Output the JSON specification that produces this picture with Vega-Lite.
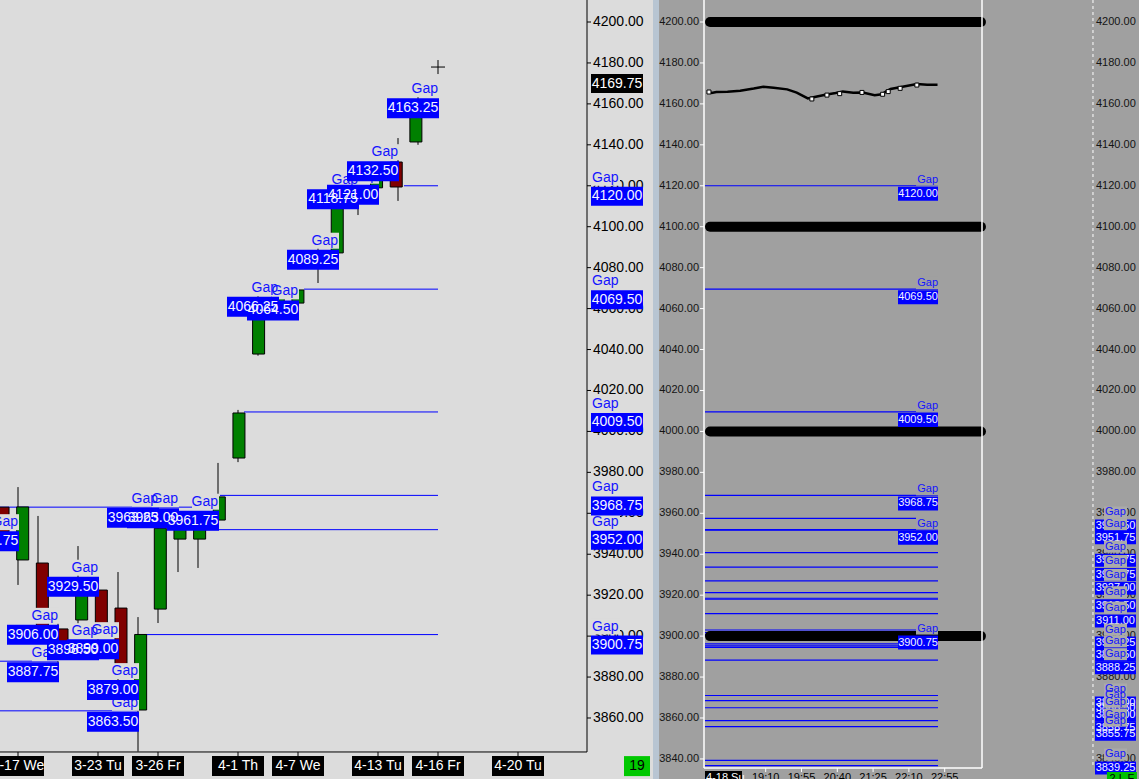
{
  "$schema": "https://vega.github.io/schema/vega-lite/v6.json",
  "width": 1139,
  "height": 779,
  "autosize": {"type": "none"},
  "padding": 0,
  "background": "#dcdcdc",
  "config": {"view": {"stroke": null}, "font": "Liberation Sans"},
  "datasets": {
    "candles": [
      {"s": -1, "o": 3963.0, "h": 3966.0, "l": 3948.0, "c": 3951.0},
      {"s": 0, "o": 3937.2, "h": 3972.8, "l": 3925.0, "c": 3963.1},
      {"s": 1, "o": 3935.7, "h": 3958.7, "l": 3902.0, "c": 3905.0},
      {"s": 2, "o": 3903.5, "h": 3912.0, "l": 3881.0, "c": 3890.0},
      {"s": 3, "o": 3907.9, "h": 3944.0, "l": 3905.0, "c": 3926.0},
      {"s": 4, "o": 3922.5, "h": 3925.0, "l": 3898.0, "c": 3904.0},
      {"s": 5, "o": 3913.7, "h": 3931.3, "l": 3876.0, "c": 3880.0},
      {"s": 6, "o": 3863.9, "h": 3909.3, "l": 3843.6, "c": 3900.8},
      {"s": 7, "o": 3913.2, "h": 3960.0, "l": 3906.4, "c": 3952.7},
      {"s": 8, "o": 3947.4, "h": 3962.0, "l": 3931.3, "c": 3953.3},
      {"s": 9, "o": 3947.4, "h": 3960.0, "l": 3933.3, "c": 3953.3},
      {"s": 10, "o": 3956.7, "h": 3984.6, "l": 3955.5, "c": 3968.0},
      {"s": 11, "o": 3987.0, "h": 4010.5, "l": 3985.0, "c": 4009.0},
      {"s": 12, "o": 4037.8, "h": 4066.0, "l": 4037.0, "c": 4064.0},
      {"s": 13, "o": 4062.0, "h": 4068.0, "l": 4060.0, "c": 4066.0},
      {"s": 14, "o": 4062.7, "h": 4069.5, "l": 4060.5, "c": 4069.1},
      {"s": 15, "o": 4081.0, "h": 4089.6, "l": 4072.5, "c": 4087.0},
      {"s": 16, "o": 4087.2, "h": 4117.0, "l": 4086.0, "c": 4115.0},
      {"s": 17, "o": 4114.0, "h": 4122.0, "l": 4105.7, "c": 4120.0},
      {"s": 18, "o": 4119.0, "h": 4131.0, "l": 4117.0, "c": 4127.0},
      {"s": 19, "o": 4131.6, "h": 4143.3, "l": 4112.6, "c": 4119.4},
      {"s": 20, "o": 4141.4, "h": 4163.5, "l": 4140.0, "c": 4160.0}
    ],
    "lgaps": [
      {"s": 0, "p": 3951.75},
      {"s": 2, "p": 3906.0},
      {"s": 2, "p": 3887.75},
      {"s": 4, "p": 3929.5},
      {"s": 4, "p": 3898.5},
      {"s": 5, "p": 3899.0},
      {"s": 6, "p": 3879.0},
      {"s": 6, "p": 3863.5},
      {"s": 7, "p": 3963.25},
      {"s": 8, "p": 3963.0},
      {"s": 10, "p": 3961.75},
      {"s": 13, "p": 4066.25},
      {"s": 14, "p": 4064.5},
      {"s": 16, "p": 4089.25},
      {"s": 17, "p": 4118.75},
      {"s": 18, "p": 4121.0},
      {"s": 19, "p": 4132.5},
      {"s": 21, "p": 4163.25}
    ],
    "llines": [
      {"p": 3963.0, "s": -0.9, "e": 10},
      {"p": 3968.75, "s": 10.1, "e": 21},
      {"p": 3952.0, "s": 9.3, "e": 21},
      {"p": 4009.5, "s": 11.3, "e": 21},
      {"p": 4069.5, "s": 14.3, "e": 21},
      {"p": 4120.0, "s": 19.3, "e": 21},
      {"p": 3900.75, "s": 6.3, "e": 21},
      {"p": 3863.5, "s": -0.9, "e": 6},
      {"p": 3887.75, "s": -0.9, "e": 2}
    ],
    "open": [
      {"p": 4120.0}, {"p": 4069.5}, {"p": 4009.5}, {"p": 3968.75}, {"p": 3952.0}, {"p": 3900.75}
    ],
    "last": [{"p": 4169.75}],
    "dates": [
      {"s": 0, "d": "3-17 We"}, {"s": 4, "d": "3-23 Tu"}, {"s": 7, "d": "3-26 Fr"},
      {"s": 11, "d": "4-1 Th"}, {"s": 14, "d": "4-7 We"}, {"s": 18, "d": "4-13 Tu"},
      {"s": 21, "d": "4-16 Fr"}, {"s": 25, "d": "4-20 Tu"}
    ],
    "yticks": [
      {"p": 3840}, {"p": 3860}, {"p": 3880}, {"p": 3900}, {"p": 3920}, {"p": 3940}, {"p": 3960},
      {"p": 3980}, {"p": 4000}, {"p": 4020}, {"p": 4040}, {"p": 4060}, {"p": 4080}, {"p": 4100},
      {"p": 4120}, {"p": 4140}, {"p": 4160}, {"p": 4180}, {"p": 4200}
    ],
    "rlines": [
      {"p": 4120.0}, {"p": 4069.5}, {"p": 4009.5}, {"p": 3968.75}, {"p": 3957.5}, {"p": 3952.0},
      {"p": 3951.75}, {"p": 3940.75}, {"p": 3933.75}, {"p": 3927.0}, {"p": 3921.25}, {"p": 3918.5},
      {"p": 3918.0}, {"p": 3911.0}, {"p": 3903.0}, {"p": 3901.75}, {"p": 3900.75}, {"p": 3900.25},
      {"p": 3896.25}, {"p": 3895.25}, {"p": 3894.5}, {"p": 3888.25}, {"p": 3871.0}, {"p": 3868.5},
      {"p": 3865.0}, {"p": 3858.75}, {"p": 3855.75}, {"p": 3839.25}, {"p": 3836.75}
    ],
    "raxis": [
      {"p": 3957.5}, {"p": 3951.75}, {"p": 3940.75}, {"p": 3933.75}, {"p": 3927.0}, {"p": 3918.5},
      {"p": 3911.0}, {"p": 3900.25}, {"p": 3894.5}, {"p": 3888.25}, {"p": 3871.0}, {"p": 3868.5},
      {"p": 3865.0}, {"p": 3858.75}, {"p": 3855.75}, {"p": 3839.25}
    ],
    "rbold": [{"p": 4200}, {"p": 4100}, {"p": 4000}, {"p": 3900}],
    "rprice": [
      {"t": -3, "p": 4166.0}, {"t": 2, "p": 4165.3}, {"t": 8, "p": 4165.8}, {"t": 22, "p": 4165.9},
      {"t": 38, "p": 4166.4}, {"t": 55, "p": 4167.5}, {"t": 67, "p": 4168.4}, {"t": 80, "p": 4167.9},
      {"t": 97, "p": 4167.1}, {"t": 109, "p": 4165.5}, {"t": 115, "p": 4164.3}, {"t": 123, "p": 4162.7},
      {"t": 130, "p": 4163.2}, {"t": 145, "p": 4164.5}, {"t": 158, "p": 4165.3}, {"t": 167, "p": 4166.1},
      {"t": 180, "p": 4165.5}, {"t": 192, "p": 4165.6}, {"t": 207, "p": 4164.2}, {"t": 216, "p": 4164.7},
      {"t": 221, "p": 4166.0}, {"t": 227, "p": 4167.3}, {"t": 242, "p": 4168.4}, {"t": 260, "p": 4169.7},
      {"t": 273, "p": 4169.4}, {"t": 286, "p": 4169.4}
    ],
    "rwhite": [
      {"t": -1.3, "p": 4165.8}, {"t": 128, "p": 4162.4}, {"t": 147, "p": 4164.3}, {"t": 163, "p": 4165.0},
      {"t": 191, "p": 4165.6}, {"t": 217, "p": 4164.7}, {"t": 224, "p": 4166.0}, {"t": 239, "p": 4167.6},
      {"t": 260, "p": 4169.2}
    ],
    "rtimes": [
      {"t": 70, "d": "19:10"}, {"t": 115, "d": "19:55"}, {"t": 160, "d": "20:40"},
      {"t": 205, "d": "21:25"}, {"t": 250, "d": "22:10"}, {"t": 295, "d": "22:55"}
    ],
    "one": [{"k": 1}]
  },
  "resolve": {"scale": {"x": "independent"}, "axis": {"x": "independent"}},
  "layer": [
    {
      "data": {"name": "one"},
      "mark": {"type": "rect", "color": "#a0a0a0"},
      "encoding": {
        "x": {"datum": 32.05, "type": "quantitative", "axis": null, "scale": {"domain": [-0.9, 28.45], "range": [0, 587], "nice": false, "zero": false}},
        "x2": {"datum": 57},
        "y": {"datum": 3830.2, "type": "quantitative", "axis": null, "scale": {"domain": [3830.2, 4210.75], "nice": false, "zero": false}},
        "y2": {"datum": 4210.75}
      }
    },
    {
      "data": {"name": "one"},
      "mark": {"type": "rect", "color": "#b8c5d2"},
      "encoding": {
        "x": {"datum": 31.75, "type": "quantitative", "axis": null, "scale": {"domain": [-0.9, 28.45], "range": [0, 587], "nice": false, "zero": false}},
        "x2": {"datum": 32.05},
        "y": {"datum": 3830.2, "type": "quantitative", "axis": null, "scale": {"domain": [3830.2, 4210.75], "nice": false, "zero": false}},
        "y2": {"datum": 4210.75}
      }
    },
    {
      "data": {"name": "llines"},
      "mark": {"type": "rule", "color": "#0000ff", "strokeWidth": 1},
      "encoding": {
        "x": {"field": "s", "type": "quantitative", "axis": null, "scale": {"domain": [-0.9, 28.45], "range": [0, 587], "nice": false, "zero": false}},
        "x2": {"field": "e"},
        "y": {"field": "p", "type": "quantitative", "axis": null, "scale": {"domain": [3830.2, 4210.75], "nice": false, "zero": false}}
      }
    },
    {
      "data": {"name": "candles"},
      "mark": {"type": "rule", "color": "#000000", "strokeWidth": 1},
      "encoding": {
        "x": {"field": "s", "type": "quantitative", "axis": null, "scale": {"domain": [-0.9, 28.45], "range": [0, 587], "nice": false, "zero": false}},
        "y": {"field": "l", "type": "quantitative", "axis": null, "scale": {"domain": [3830.2, 4210.75], "nice": false, "zero": false}},
        "y2": {"field": "h"}
      }
    },
    {
      "data": {"name": "candles"},
      "mark": {"type": "bar", "orient": "vertical", "width": 12, "stroke": "#000000", "strokeWidth": 1},
      "encoding": {
        "x": {"field": "s", "type": "quantitative", "axis": null, "scale": {"domain": [-0.9, 28.45], "range": [0, 587], "nice": false, "zero": false}},
        "y": {"field": "o", "type": "quantitative", "axis": null, "scale": {"domain": [3830.2, 4210.75], "nice": false, "zero": false}},
        "y2": {"field": "c"},
        "fill": {"condition": {"test": "datum.c >= datum.o", "value": "#008000"}, "value": "#800000"}
      }
    },
    {
      "data": {"name": "yticks"},
      "transform": [{"filter": "datum.p >= 3860"}],
      "mark": {"type": "rule", "color": "#000000", "strokeWidth": 1},
      "encoding": {
        "x": {"datum": 28.45, "type": "quantitative", "axis": null, "scale": {"domain": [-0.9, 28.45], "range": [0, 587], "nice": false, "zero": false}},
        "x2": {"datum": 28.65},
        "y": {"field": "p", "type": "quantitative", "axis": null, "scale": {"domain": [3830.2, 4210.75], "nice": false, "zero": false}}
      }
    },
    {
      "data": {"name": "yticks"},
      "transform": [{"filter": "datum.p >= 3860"}],
      "mark": {"type": "text", "align": "left", "baseline": "middle", "dx": 6, "fontSize": 14, "color": "#000000"},
      "encoding": {
        "x": {"datum": 28.45, "type": "quantitative", "axis": null, "scale": {"domain": [-0.9, 28.45], "range": [0, 587], "nice": false, "zero": false}},
        "y": {"field": "p", "type": "quantitative", "axis": null, "scale": {"domain": [3830.2, 4210.75], "nice": false, "zero": false}},
        "text": {"field": "p", "type": "quantitative", "format": ".2f"}
      }
    },
    {
      "data": {"name": "one"},
      "mark": {"type": "rule", "color": "#000000", "strokeWidth": 1},
      "encoding": {
        "x": {"datum": 28.45, "type": "quantitative", "axis": null, "scale": {"domain": [-0.9, 28.45], "range": [0, 587], "nice": false, "zero": false}},
        "y": {"datum": 3843.4, "type": "quantitative", "axis": null, "scale": {"domain": [3830.2, 4210.75], "nice": false, "zero": false}},
        "y2": {"datum": 4210.75}
      }
    },
    {
      "data": {"name": "one"},
      "mark": {"type": "rule", "color": "#000000", "strokeWidth": 1},
      "encoding": {
        "x": {"datum": -0.9, "type": "quantitative", "axis": null, "scale": {"domain": [-0.9, 28.45], "range": [0, 587], "nice": false, "zero": false}},
        "x2": {"datum": 28.45},
        "y": {"datum": 3843.4, "type": "quantitative", "axis": null, "scale": {"domain": [3830.2, 4210.75], "nice": false, "zero": false}}
      }
    },
    {
      "data": {"name": "lgaps"},
      "mark": {"type": "point", "shape": "M-26,-16H1V0H-26Z", "size": 4, "filled": true, "color": "#dcdcdc", "opacity": 1, "strokeWidth": 0},
      "encoding": {
        "x": {"field": "s", "type": "quantitative", "axis": null, "scale": {"domain": [-0.9, 28.45], "range": [0, 587], "nice": false, "zero": false}},
        "y": {"field": "p", "type": "quantitative", "axis": null, "scale": {"domain": [3830.2, 4210.75], "nice": false, "zero": false}}
      }
    },
    {
      "data": {"name": "lgaps"},
      "mark": {"type": "text", "text": "Gap", "align": "right", "baseline": "bottom", "dy": -1, "fontSize": 14, "color": "#1414ff"},
      "encoding": {
        "x": {"field": "s", "type": "quantitative", "axis": null, "scale": {"domain": [-0.9, 28.45], "range": [0, 587], "nice": false, "zero": false}},
        "y": {"field": "p", "type": "quantitative", "axis": null, "scale": {"domain": [3830.2, 4210.75], "nice": false, "zero": false}}
      }
    },
    {
      "data": {"name": "lgaps"},
      "mark": {"type": "point", "shape": "M-51,1H1V21H-51Z", "size": 4, "filled": true, "color": "#0000ff", "opacity": 1, "strokeWidth": 0},
      "encoding": {
        "x": {"field": "s", "type": "quantitative", "axis": null, "scale": {"domain": [-0.9, 28.45], "range": [0, 587], "nice": false, "zero": false}},
        "y": {"field": "p", "type": "quantitative", "axis": null, "scale": {"domain": [3830.2, 4210.75], "nice": false, "zero": false}}
      }
    },
    {
      "data": {"name": "lgaps"},
      "mark": {"type": "text", "align": "center", "baseline": "middle", "dx": -25, "dy": 11, "fontSize": 14, "color": "#f4f4ff"},
      "encoding": {
        "x": {"field": "s", "type": "quantitative", "axis": null, "scale": {"domain": [-0.9, 28.45], "range": [0, 587], "nice": false, "zero": false}},
        "y": {"field": "p", "type": "quantitative", "axis": null, "scale": {"domain": [3830.2, 4210.75], "nice": false, "zero": false}},
        "text": {"field": "p", "type": "quantitative", "format": ".2f"}
      }
    },
    {
      "data": {"name": "open"},
      "mark": {"type": "point", "shape": "M4,-16H33V0H4Z", "size": 4, "filled": true, "color": "#dcdcdc", "opacity": 1, "strokeWidth": 0},
      "encoding": {
        "x": {"datum": 28.45, "type": "quantitative", "axis": null, "scale": {"domain": [-0.9, 28.45], "range": [0, 587], "nice": false, "zero": false}},
        "y": {"field": "p", "type": "quantitative", "axis": null, "scale": {"domain": [3830.2, 4210.75], "nice": false, "zero": false}}
      }
    },
    {
      "data": {"name": "open"},
      "mark": {"type": "text", "text": "Gap", "align": "left", "baseline": "bottom", "dx": 5, "dy": -1, "fontSize": 14, "color": "#1414ff"},
      "encoding": {
        "x": {"datum": 28.45, "type": "quantitative", "axis": null, "scale": {"domain": [-0.9, 28.45], "range": [0, 587], "nice": false, "zero": false}},
        "y": {"field": "p", "type": "quantitative", "axis": null, "scale": {"domain": [3830.2, 4210.75], "nice": false, "zero": false}}
      }
    },
    {
      "data": {"name": "open"},
      "mark": {"type": "point", "shape": "M4,1H56V20H4Z", "size": 4, "filled": true, "color": "#0000ff", "opacity": 1, "strokeWidth": 0},
      "encoding": {
        "x": {"datum": 28.45, "type": "quantitative", "axis": null, "scale": {"domain": [-0.9, 28.45], "range": [0, 587], "nice": false, "zero": false}},
        "y": {"field": "p", "type": "quantitative", "axis": null, "scale": {"domain": [3830.2, 4210.75], "nice": false, "zero": false}}
      }
    },
    {
      "data": {"name": "open"},
      "mark": {"type": "text", "align": "center", "baseline": "middle", "dx": 30, "dy": 10.5, "fontSize": 14, "color": "#f4f4ff"},
      "encoding": {
        "x": {"datum": 28.45, "type": "quantitative", "axis": null, "scale": {"domain": [-0.9, 28.45], "range": [0, 587], "nice": false, "zero": false}},
        "y": {"field": "p", "type": "quantitative", "axis": null, "scale": {"domain": [3830.2, 4210.75], "nice": false, "zero": false}},
        "text": {"field": "p", "type": "quantitative", "format": ".2f"}
      }
    },
    {
      "data": {"name": "last"},
      "mark": {"type": "point", "shape": "M4,-10H56V9H4Z", "size": 4, "filled": true, "color": "#000000", "opacity": 1, "strokeWidth": 0},
      "encoding": {
        "x": {"datum": 28.45, "type": "quantitative", "axis": null, "scale": {"domain": [-0.9, 28.45], "range": [0, 587], "nice": false, "zero": false}},
        "y": {"field": "p", "type": "quantitative", "axis": null, "scale": {"domain": [3830.2, 4210.75], "nice": false, "zero": false}}
      }
    },
    {
      "data": {"name": "last"},
      "mark": {"type": "text", "align": "center", "baseline": "middle", "dx": 30, "fontSize": 14, "color": "#ffffff"},
      "encoding": {
        "x": {"datum": 28.45, "type": "quantitative", "axis": null, "scale": {"domain": [-0.9, 28.45], "range": [0, 587], "nice": false, "zero": false}},
        "y": {"field": "p", "type": "quantitative", "axis": null, "scale": {"domain": [3830.2, 4210.75], "nice": false, "zero": false}},
        "text": {"field": "p", "type": "quantitative", "format": ".2f"}
      }
    },
    {
      "data": {"name": "dates"},
      "mark": {"type": "rule", "color": "#000000", "strokeWidth": 1},
      "encoding": {
        "x": {"field": "s", "type": "quantitative", "axis": null, "scale": {"domain": [-0.9, 28.45], "range": [0, 587], "nice": false, "zero": false}},
        "y": {"datum": 3843.4, "type": "quantitative", "axis": null, "scale": {"domain": [3830.2, 4210.75], "nice": false, "zero": false}},
        "y2": {"datum": 3841.4}
      }
    },
    {
      "data": {"name": "dates"},
      "mark": {"type": "point", "shape": "M-26,-10H26V10H-26Z", "size": 4, "filled": true, "color": "#000000", "opacity": 1, "strokeWidth": 0},
      "encoding": {
        "x": {"field": "s", "type": "quantitative", "axis": null, "scale": {"domain": [-0.9, 28.45], "range": [0, 587], "nice": false, "zero": false}},
        "y": {"datum": 3836.5, "type": "quantitative", "axis": null, "scale": {"domain": [3830.2, 4210.75], "nice": false, "zero": false}}
      }
    },
    {
      "data": {"name": "dates"},
      "mark": {"type": "text", "align": "center", "baseline": "middle", "fontSize": 14, "color": "#ffffff"},
      "encoding": {
        "x": {"field": "s", "type": "quantitative", "axis": null, "scale": {"domain": [-0.9, 28.45], "range": [0, 587], "nice": false, "zero": false}},
        "y": {"datum": 3836.5, "type": "quantitative", "axis": null, "scale": {"domain": [3830.2, 4210.75], "nice": false, "zero": false}},
        "text": {"field": "d"}
      }
    },
    {
      "data": {"values": [{"n": "19"}]},
      "mark": {"type": "point", "shape": "M-13,-10H13V10H-13Z", "size": 4, "filled": true, "color": "#00c800", "opacity": 1, "strokeWidth": 0},
      "encoding": {
        "x": {"datum": 30.95, "type": "quantitative", "axis": null, "scale": {"domain": [-0.9, 28.45], "range": [0, 587], "nice": false, "zero": false}},
        "y": {"datum": 3836.5, "type": "quantitative", "axis": null, "scale": {"domain": [3830.2, 4210.75], "nice": false, "zero": false}}
      }
    },
    {
      "data": {"values": [{"n": "19"}]},
      "mark": {"type": "text", "align": "center", "baseline": "middle", "fontSize": 14, "color": "#000000"},
      "encoding": {
        "x": {"datum": 30.95, "type": "quantitative", "axis": null, "scale": {"domain": [-0.9, 28.45], "range": [0, 587], "nice": false, "zero": false}},
        "y": {"datum": 3836.5, "type": "quantitative", "axis": null, "scale": {"domain": [3830.2, 4210.75], "nice": false, "zero": false}},
        "text": {"field": "n"}
      }
    },
    {
      "data": {"name": "one"},
      "mark": {"type": "point", "shape": "M-7,0H7M0,-7V7", "size": 4, "filled": false, "stroke": "#000000", "strokeWidth": 1, "opacity": 1},
      "encoding": {
        "x": {"datum": 21, "type": "quantitative", "axis": null, "scale": {"domain": [-0.9, 28.45], "range": [0, 587], "nice": false, "zero": false}},
        "y": {"datum": 4178.0, "type": "quantitative", "axis": null, "scale": {"domain": [3830.2, 4210.75], "nice": false, "zero": false}}
      }
    },
    {
      "data": {"name": "rlines"},
      "mark": {"type": "rule", "color": "#0000ff", "strokeWidth": 1.2},
      "encoding": {
        "x": {"datum": -6.3, "type": "quantitative", "axis": null, "scale": {"domain": [-7.54, 341.9], "range": [704, 982], "nice": false, "zero": false}},
        "x2": {"datum": 286.6},
        "y": {"field": "p", "type": "quantitative", "axis": null, "scale": {"domain": [3830.2, 4210.75], "nice": false, "zero": false}}
      }
    },
    {
      "data": {"name": "rbold"},
      "mark": {"type": "rule", "color": "#000000", "strokeWidth": 10, "strokeCap": "round"},
      "encoding": {
        "x": {"datum": 0, "type": "quantitative", "axis": null, "scale": {"domain": [-7.54, 341.9], "range": [704, 982], "nice": false, "zero": false}},
        "x2": {"datum": 340.6},
        "y": {"field": "p", "type": "quantitative", "axis": null, "scale": {"domain": [3830.2, 4210.75], "nice": false, "zero": false}}
      }
    },
    {
      "data": {"name": "rprice"},
      "mark": {"type": "line", "color": "#000000", "strokeWidth": 2.5},
      "encoding": {
        "x": {"field": "t", "type": "quantitative", "axis": null, "scale": {"domain": [-7.54, 341.9], "range": [704, 982], "nice": false, "zero": false}},
        "y": {"field": "p", "type": "quantitative", "axis": null, "scale": {"domain": [3830.2, 4210.75], "nice": false, "zero": false}}
      }
    },
    {
      "data": {"name": "rwhite"},
      "mark": {"type": "point", "shape": "square", "size": 16, "filled": true, "fill": "#ffffff", "stroke": "#000000", "strokeWidth": 1, "opacity": 1},
      "encoding": {
        "x": {"field": "t", "type": "quantitative", "axis": null, "scale": {"domain": [-7.54, 341.9], "range": [704, 982], "nice": false, "zero": false}},
        "y": {"field": "p", "type": "quantitative", "axis": null, "scale": {"domain": [3830.2, 4210.75], "nice": false, "zero": false}}
      }
    },
    {
      "data": {"name": "one"},
      "mark": {"type": "rule", "color": "#ffffff", "strokeWidth": 1.5},
      "encoding": {
        "x": {"datum": -7.54, "type": "quantitative", "axis": null, "scale": {"domain": [-7.54, 341.9], "range": [704, 982], "nice": false, "zero": false}},
        "y": {"datum": 4210.75, "type": "quantitative", "axis": null, "scale": {"domain": [3830.2, 4210.75], "nice": false, "zero": false}},
        "y2": {"datum": 3835.6}
      }
    },
    {
      "data": {"name": "one"},
      "mark": {"type": "rule", "color": "#ffffff", "strokeWidth": 1.5},
      "encoding": {
        "x": {"datum": 341.9, "type": "quantitative", "axis": null, "scale": {"domain": [-7.54, 341.9], "range": [704, 982], "nice": false, "zero": false}},
        "y": {"datum": 4210.75, "type": "quantitative", "axis": null, "scale": {"domain": [3830.2, 4210.75], "nice": false, "zero": false}},
        "y2": {"datum": 3835.6}
      }
    },
    {
      "data": {"name": "one"},
      "mark": {"type": "rule", "color": "#ffffff", "strokeWidth": 1.5},
      "encoding": {
        "x": {"datum": -7.54, "type": "quantitative", "axis": null, "scale": {"domain": [-7.54, 341.9], "range": [704, 982], "nice": false, "zero": false}},
        "x2": {"datum": 341.9},
        "y": {"datum": 3835.6, "type": "quantitative", "axis": null, "scale": {"domain": [3830.2, 4210.75], "nice": false, "zero": false}}
      }
    },
    {
      "data": {"name": "open"},
      "mark": {"type": "point", "shape": "M-22,-13H0V0H-22Z", "size": 4, "filled": true, "color": "#a0a0a0", "opacity": 1, "strokeWidth": 0},
      "encoding": {
        "x": {"datum": 286.6, "type": "quantitative", "axis": null, "scale": {"domain": [-7.54, 341.9], "range": [704, 982], "nice": false, "zero": false}},
        "y": {"field": "p", "type": "quantitative", "axis": null, "scale": {"domain": [3830.2, 4210.75], "nice": false, "zero": false}}
      }
    },
    {
      "data": {"name": "open"},
      "mark": {"type": "text", "text": "Gap", "align": "right", "baseline": "bottom", "dy": -1, "fontSize": 11, "color": "#1414ff"},
      "encoding": {
        "x": {"datum": 286.6, "type": "quantitative", "axis": null, "scale": {"domain": [-7.54, 341.9], "range": [704, 982], "nice": false, "zero": false}},
        "y": {"field": "p", "type": "quantitative", "axis": null, "scale": {"domain": [3830.2, 4210.75], "nice": false, "zero": false}}
      }
    },
    {
      "data": {"name": "open"},
      "mark": {"type": "point", "shape": "M-40,1H0V15H-40Z", "size": 4, "filled": true, "color": "#0000ff", "opacity": 1, "strokeWidth": 0},
      "encoding": {
        "x": {"datum": 286.6, "type": "quantitative", "axis": null, "scale": {"domain": [-7.54, 341.9], "range": [704, 982], "nice": false, "zero": false}},
        "y": {"field": "p", "type": "quantitative", "axis": null, "scale": {"domain": [3830.2, 4210.75], "nice": false, "zero": false}}
      }
    },
    {
      "data": {"name": "open"},
      "mark": {"type": "text", "align": "center", "baseline": "middle", "dx": -20, "dy": 8, "fontSize": 11, "color": "#f4f4ff"},
      "encoding": {
        "x": {"datum": 286.6, "type": "quantitative", "axis": null, "scale": {"domain": [-7.54, 341.9], "range": [704, 982], "nice": false, "zero": false}},
        "y": {"field": "p", "type": "quantitative", "axis": null, "scale": {"domain": [3830.2, 4210.75], "nice": false, "zero": false}},
        "text": {"field": "p", "type": "quantitative", "format": ".2f"}
      }
    },
    {
      "data": {"name": "yticks"},
      "mark": {"type": "rule", "color": "#ffffff", "strokeWidth": 1},
      "encoding": {
        "x": {"datum": -12.57, "type": "quantitative", "axis": null, "scale": {"domain": [-7.54, 341.9], "range": [704, 982], "nice": false, "zero": false}},
        "x2": {"datum": -7.54},
        "y": {"field": "p", "type": "quantitative", "axis": null, "scale": {"domain": [3830.2, 4210.75], "nice": false, "zero": false}}
      }
    },
    {
      "data": {"name": "yticks"},
      "mark": {"type": "text", "align": "right", "baseline": "middle", "dx": -5, "fontSize": 11, "color": "#141414"},
      "encoding": {
        "x": {"datum": -7.54, "type": "quantitative", "axis": null, "scale": {"domain": [-7.54, 341.9], "range": [704, 982], "nice": false, "zero": false}},
        "y": {"field": "p", "type": "quantitative", "axis": null, "scale": {"domain": [3830.2, 4210.75], "nice": false, "zero": false}},
        "text": {"field": "p", "type": "quantitative", "format": ".2f"}
      }
    },
    {
      "data": {"name": "yticks"},
      "mark": {"type": "text", "align": "left", "baseline": "middle", "fontSize": 11, "color": "#141414"},
      "encoding": {
        "x": {"datum": 485.2, "type": "quantitative", "axis": null, "scale": {"domain": [-7.54, 341.9], "range": [704, 982], "nice": false, "zero": false}},
        "y": {"field": "p", "type": "quantitative", "axis": null, "scale": {"domain": [3830.2, 4210.75], "nice": false, "zero": false}},
        "text": {"field": "p", "type": "quantitative", "format": ".2f"}
      }
    },
    {
      "data": {"name": "raxis"},
      "mark": {"type": "point", "shape": "M-1,1H40V14H-1Z", "size": 4, "filled": true, "color": "#0000ff", "opacity": 1, "strokeWidth": 0},
      "encoding": {
        "x": {"datum": 485.2, "type": "quantitative", "axis": null, "scale": {"domain": [-7.54, 341.9], "range": [704, 982], "nice": false, "zero": false}},
        "y": {"field": "p", "type": "quantitative", "axis": null, "scale": {"domain": [3830.2, 4210.75], "nice": false, "zero": false}}
      }
    },
    {
      "data": {"name": "raxis"},
      "mark": {"type": "text", "align": "center", "baseline": "middle", "dx": 19.5, "dy": 7.5, "fontSize": 11, "color": "#f4f4ff"},
      "encoding": {
        "x": {"datum": 485.2, "type": "quantitative", "axis": null, "scale": {"domain": [-7.54, 341.9], "range": [704, 982], "nice": false, "zero": false}},
        "y": {"field": "p", "type": "quantitative", "axis": null, "scale": {"domain": [3830.2, 4210.75], "nice": false, "zero": false}},
        "text": {"field": "p", "type": "quantitative", "format": ".2f"}
      }
    },
    {
      "data": {"name": "raxis"},
      "mark": {"type": "point", "shape": "M8,-12H31V0H8Z", "size": 4, "filled": true, "color": "#aaaaaa", "opacity": 1, "strokeWidth": 0},
      "encoding": {
        "x": {"datum": 485.2, "type": "quantitative", "axis": null, "scale": {"domain": [-7.54, 341.9], "range": [704, 982], "nice": false, "zero": false}},
        "y": {"field": "p", "type": "quantitative", "axis": null, "scale": {"domain": [3830.2, 4210.75], "nice": false, "zero": false}}
      }
    },
    {
      "data": {"name": "raxis"},
      "mark": {"type": "text", "text": "Gap", "align": "left", "baseline": "bottom", "dx": 9, "dy": -1, "fontSize": 11, "color": "#1414ff"},
      "encoding": {
        "x": {"datum": 485.2, "type": "quantitative", "axis": null, "scale": {"domain": [-7.54, 341.9], "range": [704, 982], "nice": false, "zero": false}},
        "y": {"field": "p", "type": "quantitative", "axis": null, "scale": {"domain": [3830.2, 4210.75], "nice": false, "zero": false}}
      }
    },
    {
      "data": {"name": "one"},
      "mark": {"type": "rule", "color": "#ffffff", "strokeWidth": 1, "strokeDash": [3, 3]},
      "encoding": {
        "x": {"datum": 481.4, "type": "quantitative", "axis": null, "scale": {"domain": [-7.54, 341.9], "range": [704, 982], "nice": false, "zero": false}},
        "y": {"datum": 4210.75, "type": "quantitative", "axis": null, "scale": {"domain": [3830.2, 4210.75], "nice": false, "zero": false}},
        "y2": {"datum": 3836.2}
      }
    },
    {
      "data": {"name": "rtimes"},
      "mark": {"type": "rule", "color": "#ffffff", "strokeWidth": 1},
      "encoding": {
        "x": {"field": "t", "type": "quantitative", "axis": null, "scale": {"domain": [-7.54, 341.9], "range": [704, 982], "nice": false, "zero": false}},
        "y": {"datum": 3835.6, "type": "quantitative", "axis": null, "scale": {"domain": [3830.2, 4210.75], "nice": false, "zero": false}},
        "y2": {"datum": 3833.6}
      }
    },
    {
      "data": {"name": "rtimes"},
      "mark": {"type": "text", "align": "center", "baseline": "top", "dy": 1, "fontSize": 11, "color": "#000000"},
      "encoding": {
        "x": {"field": "t", "type": "quantitative", "axis": null, "scale": {"domain": [-7.54, 341.9], "range": [704, 982], "nice": false, "zero": false}},
        "y": {"datum": 3834.1, "type": "quantitative", "axis": null, "scale": {"domain": [3830.2, 4210.75], "nice": false, "zero": false}},
        "text": {"field": "d"}
      }
    },
    {
      "data": {"values": [{"d": "4-18 Su"}]},
      "mark": {"type": "point", "shape": "M-5,0H32V11H-5Z", "size": 4, "filled": true, "color": "#000000", "opacity": 1, "strokeWidth": 0},
      "encoding": {
        "x": {"datum": 0, "type": "quantitative", "axis": null, "scale": {"domain": [-7.54, 341.9], "range": [704, 982], "nice": false, "zero": false}},
        "y": {"datum": 3834.1, "type": "quantitative", "axis": null, "scale": {"domain": [3830.2, 4210.75], "nice": false, "zero": false}}
      }
    },
    {
      "data": {"values": [{"d": "4-18 Su"}]},
      "mark": {"type": "text", "align": "left", "baseline": "top", "dx": -4, "dy": 1, "fontSize": 11, "color": "#ffffff"},
      "encoding": {
        "x": {"datum": 0, "type": "quantitative", "axis": null, "scale": {"domain": [-7.54, 341.9], "range": [704, 982], "nice": false, "zero": false}},
        "y": {"datum": 3834.1, "type": "quantitative", "axis": null, "scale": {"domain": [3830.2, 4210.75], "nice": false, "zero": false}},
        "text": {"field": "d"}
      }
    },
    {
      "data": {"values": [{"d": "2 L F"}]},
      "mark": {"type": "point", "shape": "M-15,1H15V12H-15Z", "size": 4, "filled": true, "color": "#00c000", "opacity": 1, "strokeWidth": 0},
      "encoding": {
        "x": {"datum": 517.8, "type": "quantitative", "axis": null, "scale": {"domain": [-7.54, 341.9], "range": [704, 982], "nice": false, "zero": false}},
        "y": {"datum": 3834.1, "type": "quantitative", "axis": null, "scale": {"domain": [3830.2, 4210.75], "nice": false, "zero": false}}
      }
    },
    {
      "data": {"values": [{"d": "2 L F"}]},
      "mark": {"type": "text", "align": "center", "baseline": "top", "dy": 2, "fontSize": 11, "color": "#000000"},
      "encoding": {
        "x": {"datum": 517.8, "type": "quantitative", "axis": null, "scale": {"domain": [-7.54, 341.9], "range": [704, 982], "nice": false, "zero": false}},
        "y": {"datum": 3834.1, "type": "quantitative", "axis": null, "scale": {"domain": [3830.2, 4210.75], "nice": false, "zero": false}},
        "text": {"field": "d"}
      }
    }
  ]
}
